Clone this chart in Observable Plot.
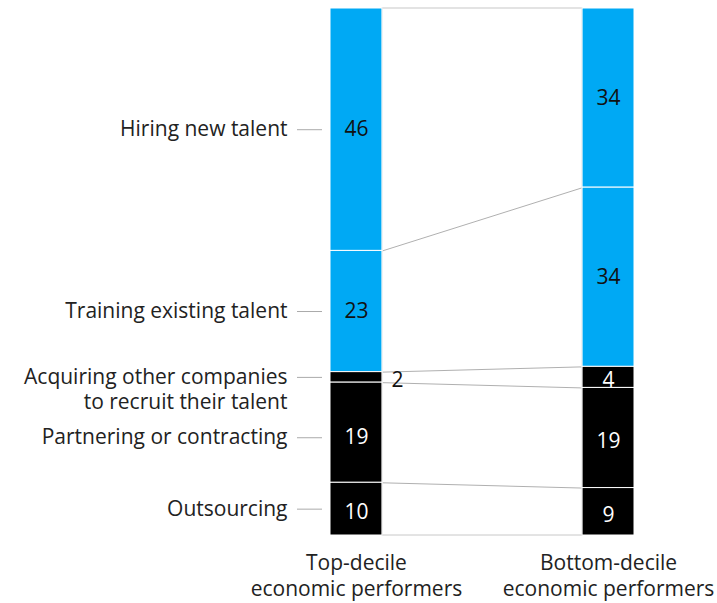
<!DOCTYPE html>
<html>
<head>
<meta charset="utf-8">
<script src="https://cdn.jsdelivr.net/npm/d3@7"></script>
<script src="https://cdn.jsdelivr.net/npm/@observablehq/plot@0.6"></script>
<style>
  html, body { margin: 0; padding: 0; background: #fff; }
  #chart { width: 717px; height: 603px; }
</style>
</head>
<body>
<div id="chart"></div>
<script>
const groups = ["Top-decile\neconomic performers", "Bottom-decile\neconomic performers"];
const categories = [
  "Hiring new talent",
  "Training existing talent",
  "Acquiring other companies\nto recruit their talent",
  "Partnering or contracting",
  "Outsourcing"
];
const topValues = [46, 23, 2, 19, 10];
const bottomValues = [34, 34, 4, 19, 9];
const categoryColors = ["#00a9f4", "#00a9f4", "#000000", "#000000", "#000000"];

const halfWidth = 0.103; // half bar width, in group units
const FONT = "'Open Sans', 'Liberation Sans', sans-serif";
const FS = 21;

// build stacked segments (stacking from the top)
const segments = [];
[topValues, bottomValues].forEach((vals, g) => {
  let cum = 0;
  vals.forEach((v, i) => {
    segments.push({g, i, cat: categories[i], v, y1: cum, y2: cum + v, mid: cum + v / 2, color: categoryColors[i]});
    cum += v;
  });
});
function cumul(vals) { const out = [0]; vals.forEach(v => out.push(out[out.length - 1] + v)); return out; }
const leftB = cumul(topValues), rightB = cumul(bottomValues);
const links = leftB.slice(1, -1).map((b, k) => ({y1: b, y2: rightB[k + 1]}));
const leftSegs = segments.filter(d => d.g === 0);
const isDark = d => d.color === "#000000";
// the label under the two-line label is nudged down a little (as in the original)
const nudged = d => d.g === 0 && d.i === 3;

const chart = Plot.plot({
  width: 717,
  height: 603,
  marginTop: 8,
  marginBottom: 68,
  marginLeft: 330,
  marginRight: 83,
  style: {fontFamily: FONT, fontSize: FS + "px", color: "#222", background: "#fff"},
  x: {type: "linear", domain: [-halfWidth, 1 + halfWidth]},
  y: {domain: [0, 100], reverse: true, axis: null},
  marks: [
    // frame between bars
    Plot.rect([{}], {x1: halfWidth, x2: 1 - halfWidth, y1: 0, y2: 100, fill: "none", stroke: "#c8c8c8", strokeWidth: 1}),
    Plot.link(links, {x1: halfWidth, x2: 1 - halfWidth, y1: "y1", y2: "y2", stroke: "#b0b0b0", strokeWidth: 1}),
    Plot.rect(segments, {x1: d => d.g - halfWidth, x2: d => d.g + halfWidth, y1: "y1", y2: "y2", fill: "color", stroke: "white", strokeWidth: 1}),
    // values inside bars
    Plot.text(segments.filter(d => d.v >= 3 && !isDark(d)), {
      x: "g", y: "mid", text: d => String(d.v), fill: "#111", fontSize: FS, dy: 0
    }),
    Plot.text(segments.filter(d => d.v >= 3 && isDark(d) && !nudged(d)), {
      x: "g", y: "mid", text: d => String(d.v), fill: "#fff", fontSize: FS, dy: 3
    }),
    Plot.text(segments.filter(d => d.v >= 3 && nudged(d)), {
      x: "g", y: "mid", text: d => String(d.v), fill: "#fff", fontSize: FS, dy: 5
    }),
    // small value outside bar
    Plot.text(segments.filter(d => d.v < 3), {
      x: d => d.g + halfWidth, y: "mid", text: d => String(d.v), dx: 9, dy: 3,
      textAnchor: "start", fill: "#111", fontSize: FS
    }),
    // leader lines
    Plot.ruleY(leftSegs.filter(d => !nudged(d)), {y: "mid", x1: -halfWidth, x2: -halfWidth, insetLeft: -33, insetRight: 8, stroke: "#aaa", strokeWidth: 1}),
    Plot.ruleY(leftSegs.filter(nudged), {y: "mid", x1: -halfWidth, x2: -halfWidth, insetLeft: -33, insetRight: 8, dy: 5, stroke: "#aaa", strokeWidth: 1}),
    // category labels
    Plot.text(leftSegs.filter(d => !d.cat.includes("\n") && !nudged(d)), {
      x: -halfWidth, y: "mid", text: "cat", dx: -43, textAnchor: "end", fill: "#222", fontSize: FS
    }),
    Plot.text(leftSegs.filter(nudged), {
      x: -halfWidth, y: "mid", text: "cat", dx: -43, dy: 5, textAnchor: "end", fill: "#222", fontSize: FS
    }),
    Plot.text(leftSegs.filter(d => d.cat.includes("\n")), {
      x: -halfWidth, y: "mid", text: "cat", dx: -43, dy: -11, textAnchor: "end", lineAnchor: "top", lineHeight: 1.18, fill: "#222", fontSize: FS
    }),
    Plot.axisX({ticks: [0, 1], tickFormat: i => groups[i], tickSize: 0, tickPadding: 16, lineHeight: 1.25, fontSize: FS, label: null, fill: "#222"})
  ]
});
document.getElementById("chart").appendChild(chart);
</script>
</body>
</html>
